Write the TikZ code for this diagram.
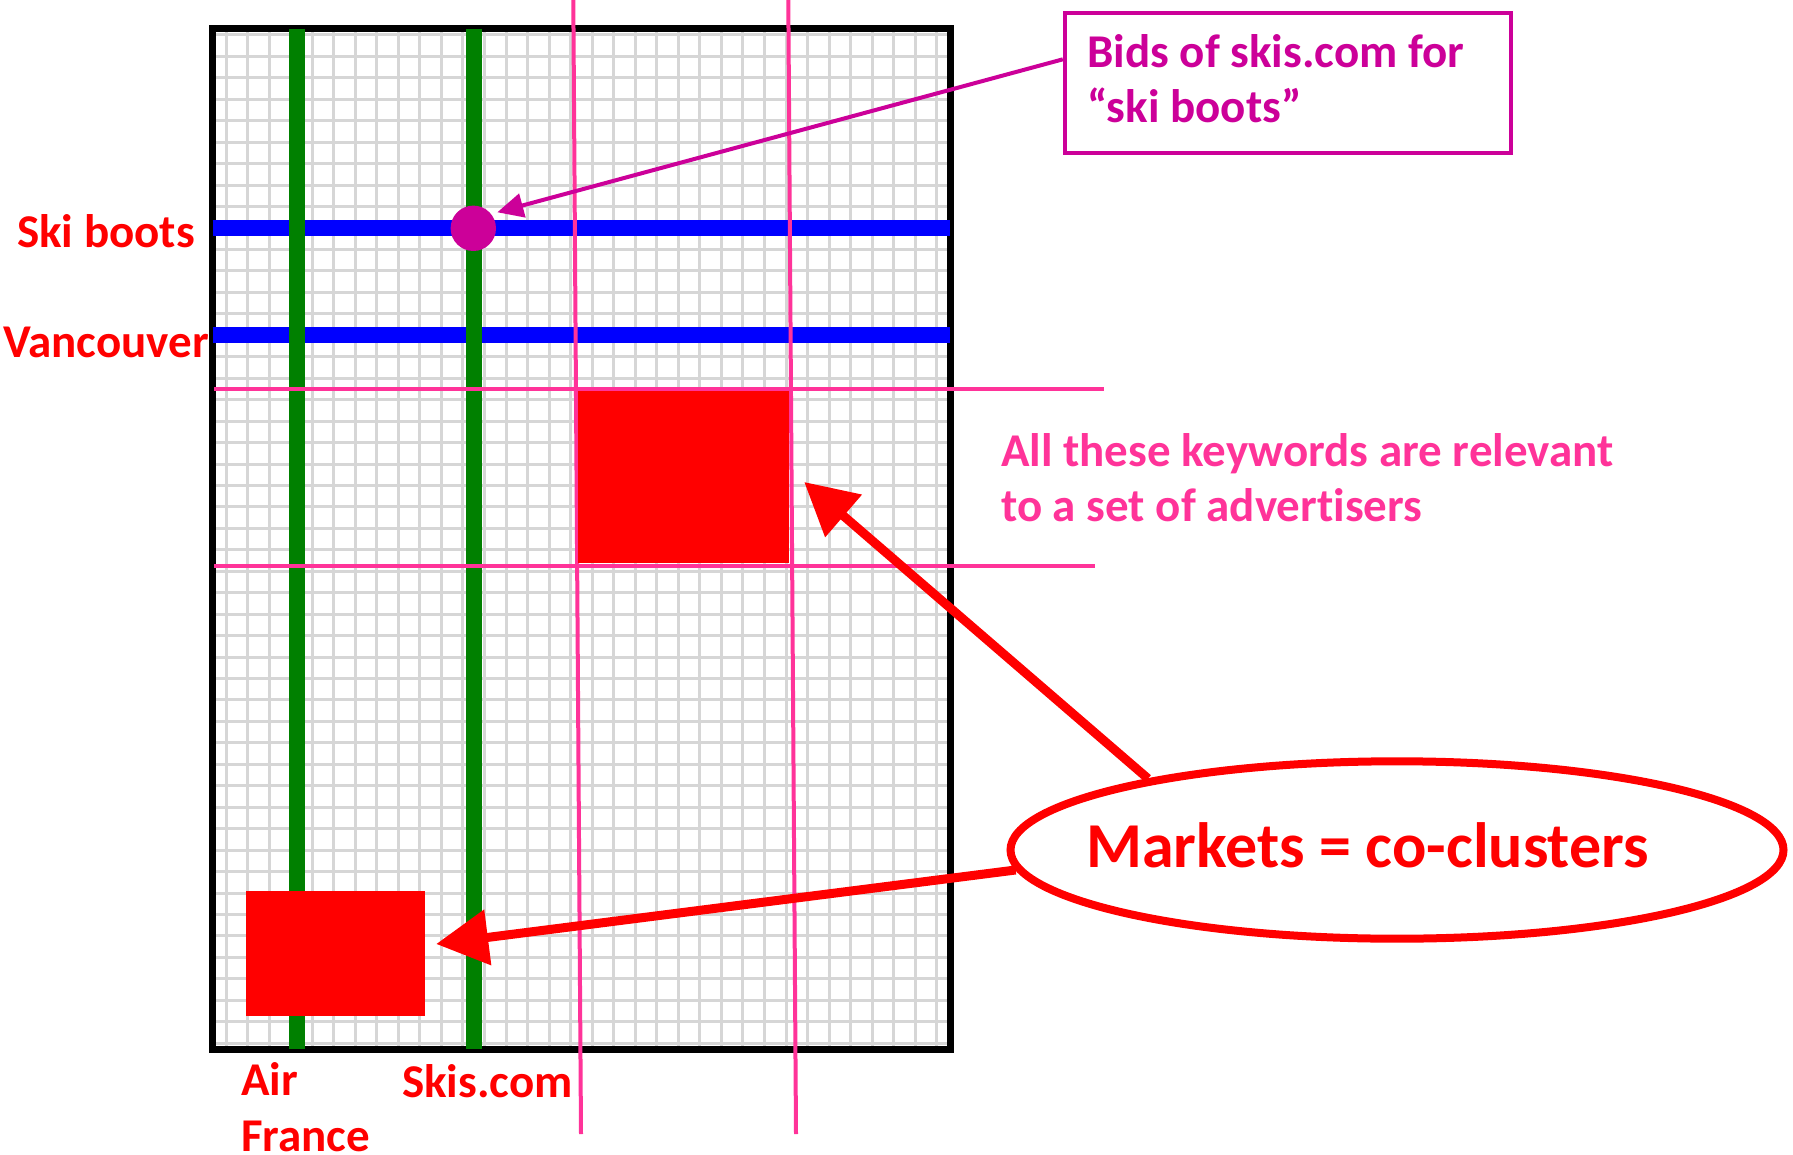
\documentclass[tikz,border=0pt]{standalone}
\usepackage{fontspec}
\setmainfont{Carlito}[Ligatures={NoCommon}]
\usetikzlibrary{arrows.meta,shapes.geometric}

\definecolor{gridgray}{RGB}{214,214,214}
\definecolor{advgreen}{RGB}{0,128,0}
\definecolor{kwblue}{RGB}{0,0,255}
\definecolor{bidmag}{RGB}{204,0,153}
\definecolor{hotpink}{RGB}{255,51,153}
\definecolor{mktred}{RGB}{255,0,0}

\tikzset{
  gridline/.style={draw=gridgray, line width=3pt},
  frameline/.style={draw=black, line width=7pt},
  advline/.style={draw=advgreen, line width=16pt},
  kwline/.style={draw=kwblue, line width=16pt},
  clusterline/.style={draw=hotpink, line width=4pt},
  redblock/.style={fill=mktred, draw=none, inner sep=0pt},
  biglabel/.style={font=\fontsize{47}{55.5}\selectfont\bfseries, inner sep=0pt, align=left},
  redlabel/.style={biglabel, text=mktred, anchor=base west},
  bigarrow/.style={draw=mktred, line width=9pt, -{Triangle[length=52pt,width=54pt]}},
  bidarrow/.style={draw=bidmag, line width=4pt, -{Triangle[length=26pt,width=24pt]}},
}

\begin{document}
\begin{tikzpicture}[x=1pt,y=-1pt]
  \useasboundingbox (0,0) rectangle (1793,1155);
  \fill[white] (0,0) rectangle (1793,1155);

  % light grid of the matrix
  \foreach \i in {0,...,33}
    \draw[gridline] ({226+21.54*\i},28.5) -- ({226+21.54*\i},1049);
  \foreach \j in {0,...,47}
    \draw[gridline] (212.5,{35+21.45*\j}) -- (950,{35+21.45*\j});

  % matrix frame
  \draw[frameline] (212.5,28.5) rectangle (950,1049);

  % keyword rows
  \draw[kwline] (212.5,228.3) -- (950,228.3);
  \draw[kwline] (212.5,334.7) -- (950,334.7);

  % advertiser columns
  \draw[advline] (297,29) -- (297,1049);
  \draw[advline] (474,29) -- (474,1049);

  % bounds of the keyword / advertiser cluster
  \draw[clusterline] (573.3,0) -- (581,1134);
  \draw[clusterline] (788.3,0) -- (796,1134);
  \draw[clusterline] (213.8,389.3) -- (1103.5,389.3);
  \draw[clusterline] (213.8,565.7) -- (1095,565.7);

  % co-cluster blocks
  \node[redblock, minimum width=211pt, minimum height=172pt] (mktA) at (683.5,477) {};
  \node[redblock, minimum width=179pt, minimum height=125pt] (mktB) at (335.5,953.5) {};

  % single bid
  \node[circle, fill=bidmag, minimum size=45.4pt, inner sep=0pt] (bid) at (473.3,228.3) {};

  % axis labels (base anchor of a two-line label sits on its last line)
  \node[redlabel] (skiboots) at (17,248) {Ski boots};
  \node[redlabel] (vancouver) at (3,358) {Vancouver};
  \node[redlabel] (airfrance) at (241,1151) {Air\\France};
  \node[redlabel] (skiscom) at (402,1097) {Skis.com};

  % callout for the bid
  \node[draw=bidmag, line width=4.4pt, minimum width=446pt, minimum height=140pt, inner sep=0pt] (bidbox) at (1288,83) {};
  \node[biglabel, text=bidmag, anchor=base west] (bidtext) at (1087,123) {Bids of skis.com for\\“ski boots”};
  \draw[bidarrow] (bidbox.174) -- ([xshift=24pt,yshift=16pt]bid.center);

  % note on the cluster
  \node[biglabel, text=hotpink, anchor=base west] (relnote) at (1001,521.5) {All these keywords are relevant\\to a set of advertisers};

  % markets ellipse
  \node[ellipse, draw=mktred, line width=8pt, minimum width=773pt, minimum height=177.4pt, inner sep=0pt] (markets) at (1397,850) {};
  \node[font=\fontsize{64}{76}\selectfont\bfseries, text=mktred, inner sep=0pt, anchor=base west] (marketstext) at (1086,867) {Markets = co-clusters};

  \draw[bigarrow] (markets.164) -- ([xshift=15pt,yshift=-5pt]mktA.east);
  \draw[bigarrow] (markets.183) -- ([xshift=11pt,yshift=9.5pt]mktB.east);
\end{tikzpicture}
\end{document}
